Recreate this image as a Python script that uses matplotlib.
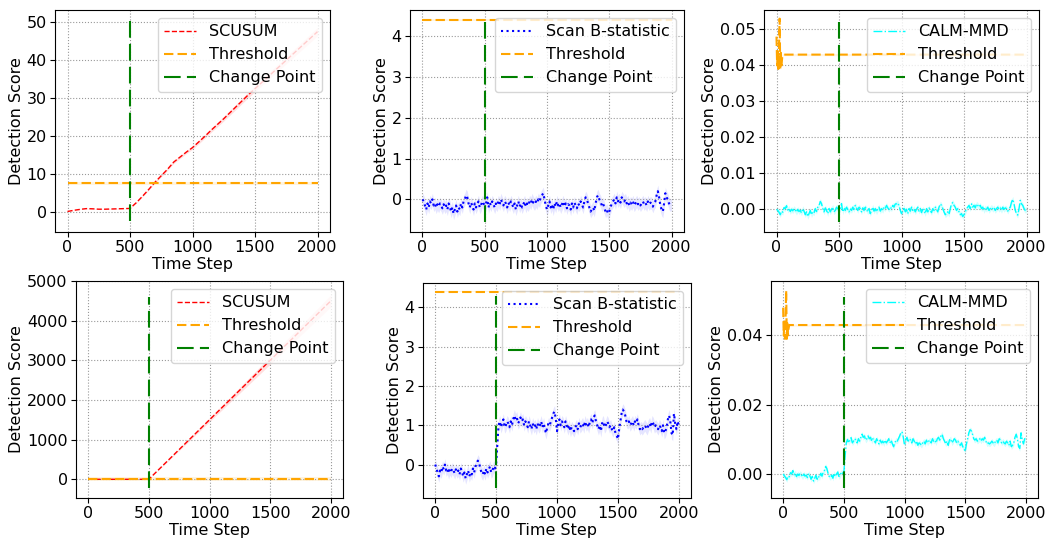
import numpy as np
import matplotlib
matplotlib.use("Agg")
import matplotlib.pyplot as plt
from matplotlib.ticker import MultipleLocator, FormatStrFormatter

plt.rcParams['font.family'] = ['DejaVu Sans']
plt.rcParams['font.size'] = 11.5
plt.rcParams['xtick.major.pad'] = 2.5
plt.rcParams['ytick.major.pad'] = 2.5

# time axis of the noisy statistics (every 10 steps)
t10 = list(range(0, 2001, 10))
# time axis of the cusum curves (every 50 steps)
t50 = list(range(0, 2001, 50))
change_point = 500

# ---- SCUSUM ----
scusum_top = [0.2, 0.5, 0.75, 0.95, 0.9, 0.8, 0.8, 0.85, 0.9, 0.95, 1.0,
              2.5, 4.2, 6.0, 7.9, 9.6, 11.3, 13.2, 14.5, 15.8, 17.0,
              18.5, 20.0, 21.6, 23.1, 24.6, 26.2, 27.8, 29.4, 31.0, 32.5,
              34.0, 35.5, 37.0, 38.5, 40.0, 41.5, 43.0, 44.5, 46.0, 47.5]
scusum_top_sd = [0.02, 0.03, 0.04, 0.04, 0.05, 0.05, 0.05, 0.05, 0.05, 0.05, 0.05,
                 0.1, 0.15, 0.2, 0.25, 0.3, 0.3, 0.35, 0.4, 0.4, 0.45,
                 0.5, 0.5, 0.55, 0.6, 0.6, 0.65, 0.7, 0.7, 0.75, 0.8,
                 0.8, 0.85, 0.9, 0.9, 0.95, 1.0, 1.0, 1.05, 1.1, 1.1]
scusum_top_thr = 7.6

scusum_bot = [0, 0, 0, 0, 0, 0, 0, 0, 0, 0, 0,
              150, 300, 450, 600, 750, 900, 1050, 1200, 1350, 1500,
              1650, 1800, 1950, 2100, 2250, 2400, 2550, 2700, 2850, 3000,
              3150, 3300, 3450, 3600, 3750, 3900, 4050, 4200, 4350, 4500]
scusum_bot_sd = [0, 0, 0, 0, 0, 0, 0, 0, 0, 0, 0,
                 5, 10, 15, 20, 25, 30, 35, 40, 45, 50,
                 55, 60, 65, 70, 75, 80, 85, 90, 95, 100,
                 105, 110, 115, 120, 125, 130, 135, 140, 145, 150]
scusum_bot_thr = 8.0

# ---- Scan B-statistic ----
scanb_top = [0.0, -0.05, -0.15, -0.25, -0.1, -0.2, -0.05, -0.1, 0.0, -0.15,
             -0.1, -0.2, -0.12, -0.18, -0.1, -0.15, -0.22, -0.12, -0.2, -0.15,
             -0.25, -0.1, -0.18, -0.3, -0.2, -0.35, -0.25, -0.15, -0.3, -0.2,
             -0.25, -0.1, -0.2, -0.05, 0.0, 0.1, 0.05, -0.1, -0.2, -0.08,
             -0.15, -0.25, -0.1, -0.2, -0.12, -0.05, -0.2, -0.15, -0.05, -0.1,
             -0.15, -0.12, 0.05, -0.2, -0.08, -0.15, -0.05, -0.12, -0.2, -0.1,
             -0.15, -0.05, -0.12, 0.0, -0.08, -0.15, -0.05, -0.1, -0.2, -0.08,
             -0.15, -0.05, -0.12, -0.2, -0.1, -0.25, -0.15, -0.05, -0.18, -0.1,
             -0.2, -0.12, -0.05, -0.18, -0.1, -0.15, -0.05, -0.1, 0.0, -0.08,
             -0.12, -0.05, -0.1, 0.0, -0.05, 0.05, 0.1, 0.15, 0.0, -0.15,
             -0.25, -0.15, -0.05, -0.2, -0.12, -0.25, -0.1, -0.18, -0.05, -0.15,
             -0.1, -0.2, -0.12, -0.05, -0.18, -0.1, -0.22, -0.12, -0.15, -0.25,
             -0.1, -0.2, -0.08, -0.15, -0.22, -0.1, -0.15, -0.05, -0.12, -0.2,
             -0.05, 0.05, 0.0, -0.1, -0.2, -0.3, -0.25, -0.2, -0.28, -0.1,
             0.05, 0.1, 0.0, -0.05, -0.15, -0.1, -0.2, -0.3, -0.25, -0.35,
             -0.3, -0.2, -0.1, -0.05, 0.0, -0.1, 0.05, -0.05, 0.0, -0.08,
             0.05, 0.0, -0.05, 0.0, -0.1, -0.05, -0.15, -0.08, -0.12, -0.05,
             -0.15, -0.1, -0.05, -0.12, -0.08, -0.15, -0.1, -0.05, -0.12, -0.08,
             -0.15, -0.05, -0.12, -0.08, -0.1, -0.18, -0.1, -0.05, 0.1, 0.2,
             0.05, -0.15, -0.25, -0.3, -0.1, 0.15, 0.05, 0.0, -0.1, -0.15,
             -0.12]
scanb_bot = [0.0, -0.1, -0.2, -0.3, -0.15, -0.2, -0.05, -0.12, 0.0, -0.15,
             -0.1, -0.22, -0.12, -0.18, -0.1, -0.15, -0.22, -0.12, -0.2, -0.15,
             -0.25, -0.1, -0.18, -0.3, -0.2, -0.35, -0.25, -0.15, -0.3, -0.2,
             -0.25, -0.1, -0.2, -0.05, 0.0, 0.1, 0.05, -0.1, -0.2, -0.25,
             -0.15, -0.25, -0.1, -0.2, -0.12, -0.05, -0.2, -0.15, -0.05, -0.1,
             0.0, 0.5, 1.0, 1.1, 0.95, 1.05, 1.15, 0.95, 1.0, 1.1,
             1.05, 0.95, 1.1, 1.0, 1.15, 1.25, 1.15, 1.2, 1.05, 1.1,
             1.2, 1.1, 1.15, 1.0, 1.1, 1.05, 0.95, 1.1, 1.0, 0.9,
             1.05, 0.95, 1.0, 0.9, 1.05, 0.95, 1.0, 1.1, 0.95, 1.05,
             0.9, 0.8, 0.95, 1.05, 1.0, 1.1, 1.2, 1.3, 1.35, 1.15,
             0.85, 1.05, 1.15, 1.0, 1.1, 1.05, 0.95, 1.1, 1.0, 0.9,
             1.0, 0.85, 0.95, 0.9, 0.85, 0.95, 1.0, 0.9, 1.05, 0.95,
             1.0, 1.05, 0.95, 1.1, 1.0, 1.05, 0.95, 1.1, 1.15, 1.05,
             1.2, 1.25, 1.1, 1.0, 0.9, 1.0, 0.85, 1.05, 1.1, 0.95,
             1.0, 1.1, 1.05, 0.95, 1.0, 0.9, 0.85, 0.95, 0.8, 0.75,
             0.65, 0.9, 1.1, 1.3, 1.4, 1.35, 1.25, 1.1, 1.05, 1.1,
             1.0, 1.05, 1.1, 1.0, 1.1, 1.05, 1.15, 1.0, 0.9, 0.95,
             0.9, 0.95, 1.0, 0.95, 0.9, 1.0, 1.05, 0.95, 1.1, 1.05,
             0.95, 1.0, 0.95, 0.9, 1.0, 0.95, 0.85, 1.0, 0.8, 0.85,
             0.95, 1.15, 1.25, 1.1, 0.8, 0.75, 1.3, 1.05, 0.9, 1.1,
             1.0]
scanb_sd = 0.15
scanb_thr = 4.4

# ---- CALM-MMD (values in units of 1e-3) ----
calm_top_e3 = [0.0, -0.3, -0.8, -1.5, -0.5, -0.8, 0.5, 0.2, 1.0, -0.2,
               0.3, -0.6, 0.0, -0.4, 0.2, -0.2, -0.8, 0.0, -0.6, -0.3,
               -1.0, 0.2, -0.5, -1.5, -0.7, -2.0, -1.2, -0.3, -1.5, -0.7,
               -1.0, 0.2, -0.6, 0.6, 1.0, 2.2, 1.6, 0.2, -0.7, 0.4,
               -0.3, -1.2, 0.2, -0.7, 0.0, 0.6, -0.7, -0.3, 0.6, 0.2,
               -0.2, 0.0, 1.6, -0.7, 0.4, -0.3, 0.6, 0.0, -0.7, 0.2,
               -0.3, 0.6, 0.0, 1.1, 0.4, -0.3, 0.6, 0.2, -0.7, 0.4,
               -0.3, 0.6, 0.0, -0.7, 0.2, -1.2, -0.3, 0.6, -0.5, 0.2,
               -0.7, 0.0, 0.6, -0.5, 0.2, -0.3, 0.6, 0.2, 1.1, 0.4,
               0.0, 0.6, 0.2, 1.1, 0.6, 1.5, 1.5, 1.8, 1.0, -0.3,
               -1.2, -0.3, 0.6, -0.7, 0.0, -1.2, 0.2, -0.5, 0.6, -0.3,
               0.2, -0.7, 0.0, 0.6, -0.5, 0.2, -0.9, 0.0, -0.3, -1.2,
               0.2, -0.7, 0.4, -0.3, -0.9, 0.2, -0.3, 0.6, 0.0, -0.7,
               0.6, 1.5, 1.1, 0.2, -0.7, -1.5, -1.2, -0.7, -1.4, 0.2,
               1.5, 1.9, 1.1, 0.6, -0.3, 0.2, -0.7, -1.5, -1.2, -2.0,
               -1.5, -0.7, 0.2, 0.6, 1.1, 0.2, 1.5, 0.6, 1.1, 0.4,
               1.5, 1.1, 0.6, 1.1, 0.2, 0.6, -0.3, 0.4, 0.0, 0.6,
               -0.3, 0.2, 0.6, 0.0, 0.4, -0.3, 0.2, 0.6, 0.0, 0.4,
               -0.3, 0.6, 0.0, 0.4, 0.2, -0.5, 0.2, 0.6, 2.0, 2.8,
               1.5, -0.3, -1.2, -1.6, 0.2, 2.5, 1.5, 1.1, 0.2, -0.3,
               0.0]
calm_bot_e3 = [0.0, -0.5, -1.0, -1.6, -0.6, -0.8, 0.4, 0.0, 1.0, -0.2,
               0.3, -0.7, 0.0, -0.4, 0.2, -0.2, -0.8, 0.0, -0.6, -0.3,
               -1.0, 0.2, -0.5, -1.5, -0.7, -2.0, -1.2, -0.3, -1.5, -0.7,
               -1.0, 0.2, -0.6, 0.6, 1.0, 2.2, 1.6, 0.2, -0.7, -1.0,
               -0.3, -1.2, 0.2, -0.7, 0.0, 0.6, -0.7, -0.3, 0.6, 0.2,
               0.5, 5.0, 9.0, 10.0, 9.0, 9.8, 10.5, 9.0, 9.5, 10.2,
               9.8, 9.0, 10.2, 9.5, 10.6, 11.5, 10.6, 11.0, 9.8, 10.2,
               11.0, 10.2, 10.6, 9.5, 10.2, 9.8, 9.0, 10.2, 9.5, 8.7,
               9.8, 9.0, 9.5, 8.7, 9.8, 9.0, 9.5, 10.2, 9.0, 9.8,
               8.7, 7.9, 9.0, 9.8, 9.5, 10.2, 11.0, 11.9, 12.2, 10.6,
               8.3, 9.8, 10.6, 9.5, 10.2, 9.8, 9.0, 10.2, 9.5, 8.7,
               9.5, 8.3, 9.0, 8.7, 8.3, 9.0, 9.5, 8.7, 9.8, 9.0,
               9.5, 9.8, 9.0, 10.2, 9.5, 9.8, 9.0, 10.2, 10.6, 9.8,
               11.0, 11.5, 10.2, 9.5, 8.7, 9.5, 8.3, 9.8, 10.2, 9.0,
               9.5, 10.2, 9.8, 9.0, 9.5, 8.7, 8.3, 9.0, 7.9, 7.4,
               6.5, 8.7, 10.2, 11.9, 12.8, 12.5, 11.5, 10.2, 9.8, 10.2,
               9.5, 9.8, 10.2, 9.5, 10.2, 9.8, 10.6, 9.5, 8.7, 9.0,
               8.7, 9.0, 9.5, 9.0, 8.7, 9.5, 9.8, 9.0, 10.2, 9.8,
               9.0, 9.5, 9.0, 8.7, 9.5, 9.0, 8.3, 9.5, 7.9, 8.3,
               9.0, 10.6, 11.5, 10.2, 7.9, 7.4, 11.9, 9.8, 8.7, 10.2,
               9.5]
calm_sd_e3 = 0.8
# adaptive threshold: jumps during warm-up, then flat
calm_thr_t = [0, 5, 10, 15, 20, 25, 30, 35, 40, 45, 50, 2000]
calm_thr_e3 = [48.0, 40.0, 44.0, 39.0, 45.0, 53.0, 39.0, 43.5, 40.0, 42.0, 43.0, 43.0]

# span of the change point marker for each panel (lo, hi)
cp_span = {
    'scusum_top': (-2.3, 50.6), 'scanb_top': (-0.55, 4.4), 'calm_top': (-0.0035, 0.0526),
    'scusum_bot': (-220, 4600), 'scanb_bot': (-0.6, 4.3), 'calm_bot': (-0.004, 0.051),
}

W, H = 1049, 542
fig = plt.figure(figsize=(W / 100, H / 100), dpi=100)


def px_axes(x0, y0, x1, y1):
    # axes box given in pixels (left, top, right, bottom)
    return fig.add_axes([x0 / W, 1 - y1 / H, (x1 - x0) / W, (y1 - y0) / H])


def finish(ax, ylim, key):
    lo, hi = cp_span[key]
    ax.vlines(change_point, lo, hi, colors='green', linestyles=(0, (8, 3)),
              linewidth=1.5, label='Change Point')
    ax.set_xlim(-100, 2100)
    ax.set_ylim(*ylim)
    ax.xaxis.set_major_locator(MultipleLocator(500))
    ax.grid(True, linestyle=':', color='0.6', linewidth=0.8)
    ax.set_xlabel('Time Step', labelpad=1)
    ax.set_ylabel('Detection Score', labelpad=2)
    ax.legend(loc='upper right', fontsize=11.5)


thr_style = dict(color='orange', linestyle=(0, (4.5, 2)), linewidth=1.5, label='Threshold')

# SCUSUM panels
for key, box, vals, sd, thr, ylim, step in [
        ('scusum_top', (55, 10, 330, 232), scusum_top, scusum_top_sd, scusum_top_thr, (-5.2, 53.2), 10),
        ('scusum_bot', (76, 281, 343, 498), scusum_bot, scusum_bot_sd, scusum_bot_thr, (-472, 5000), 1000)]:
    ax = px_axes(*box)
    v = np.array(vals, dtype=float)
    s = np.array(sd, dtype=float)
    ax.plot(t50, v, color='red', linestyle='--', linewidth=1, label='SCUSUM')
    ax.fill_between(t50, v - s, v + s, color='red', alpha=0.12, linewidth=0)
    ax.plot([0, 2000], [thr, thr], **thr_style)
    ax.fill_between([0, 2000], thr - 0.04 * step, thr + 0.04 * step, color='orange', alpha=0.12, linewidth=0)
    ax.yaxis.set_major_locator(MultipleLocator(step))
    finish(ax, ylim, key)

# Scan B-statistic panels
for key, box, vals, ylim in [
        ('scanb_top', (410, 10, 684, 232), scanb_top, (-0.80, 4.64)),
        ('scanb_bot', (423, 283, 691, 498), scanb_bot, (-0.85, 4.62))]:
    ax = px_axes(*box)
    v = np.array(vals)
    ax.plot(t10, v, color='blue', linestyle=':', linewidth=1.5, label='Scan B-statistic')
    ax.fill_between(t10, v - scanb_sd, v + scanb_sd, color='blue', alpha=0.1, linewidth=0)
    ax.plot([0, 2000], [scanb_thr, scanb_thr], **thr_style)
    ax.fill_between([0, 2000], scanb_thr - 0.02, scanb_thr + 0.02, color='orange', alpha=0.12, linewidth=0)
    ax.yaxis.set_major_locator(MultipleLocator(1))
    finish(ax, ylim, key)

# CALM-MMD panels
for key, box, vals, ylim, step in [
        ('calm_top', (764, 10, 1039, 232), calm_top_e3, (-0.0063, 0.0554), 0.01),
        ('calm_bot', (771, 281, 1038, 498), calm_bot_e3, (-0.0069, 0.0557), 0.02)]:
    ax = px_axes(*box)
    v = np.array(vals) * 1e-3
    s = calm_sd_e3 * 1e-3
    ax.plot(t10, v, color='cyan', linestyle='-.', linewidth=1, label='CALM-MMD')
    ax.fill_between(t10, v - s, v + s, color='cyan', alpha=0.18, linewidth=0)
    thr = np.array(calm_thr_e3) * 1e-3
    ax.plot(calm_thr_t, thr, **thr_style)
    ax.fill_between(calm_thr_t, thr - 0.0003, thr + 0.0003, color='orange', alpha=0.12, linewidth=0)
    ax.yaxis.set_major_locator(MultipleLocator(step))
    ax.yaxis.set_major_formatter(FormatStrFormatter('%.2f'))
    finish(ax, ylim, key)

fig.savefig('out.png', dpi=100)
